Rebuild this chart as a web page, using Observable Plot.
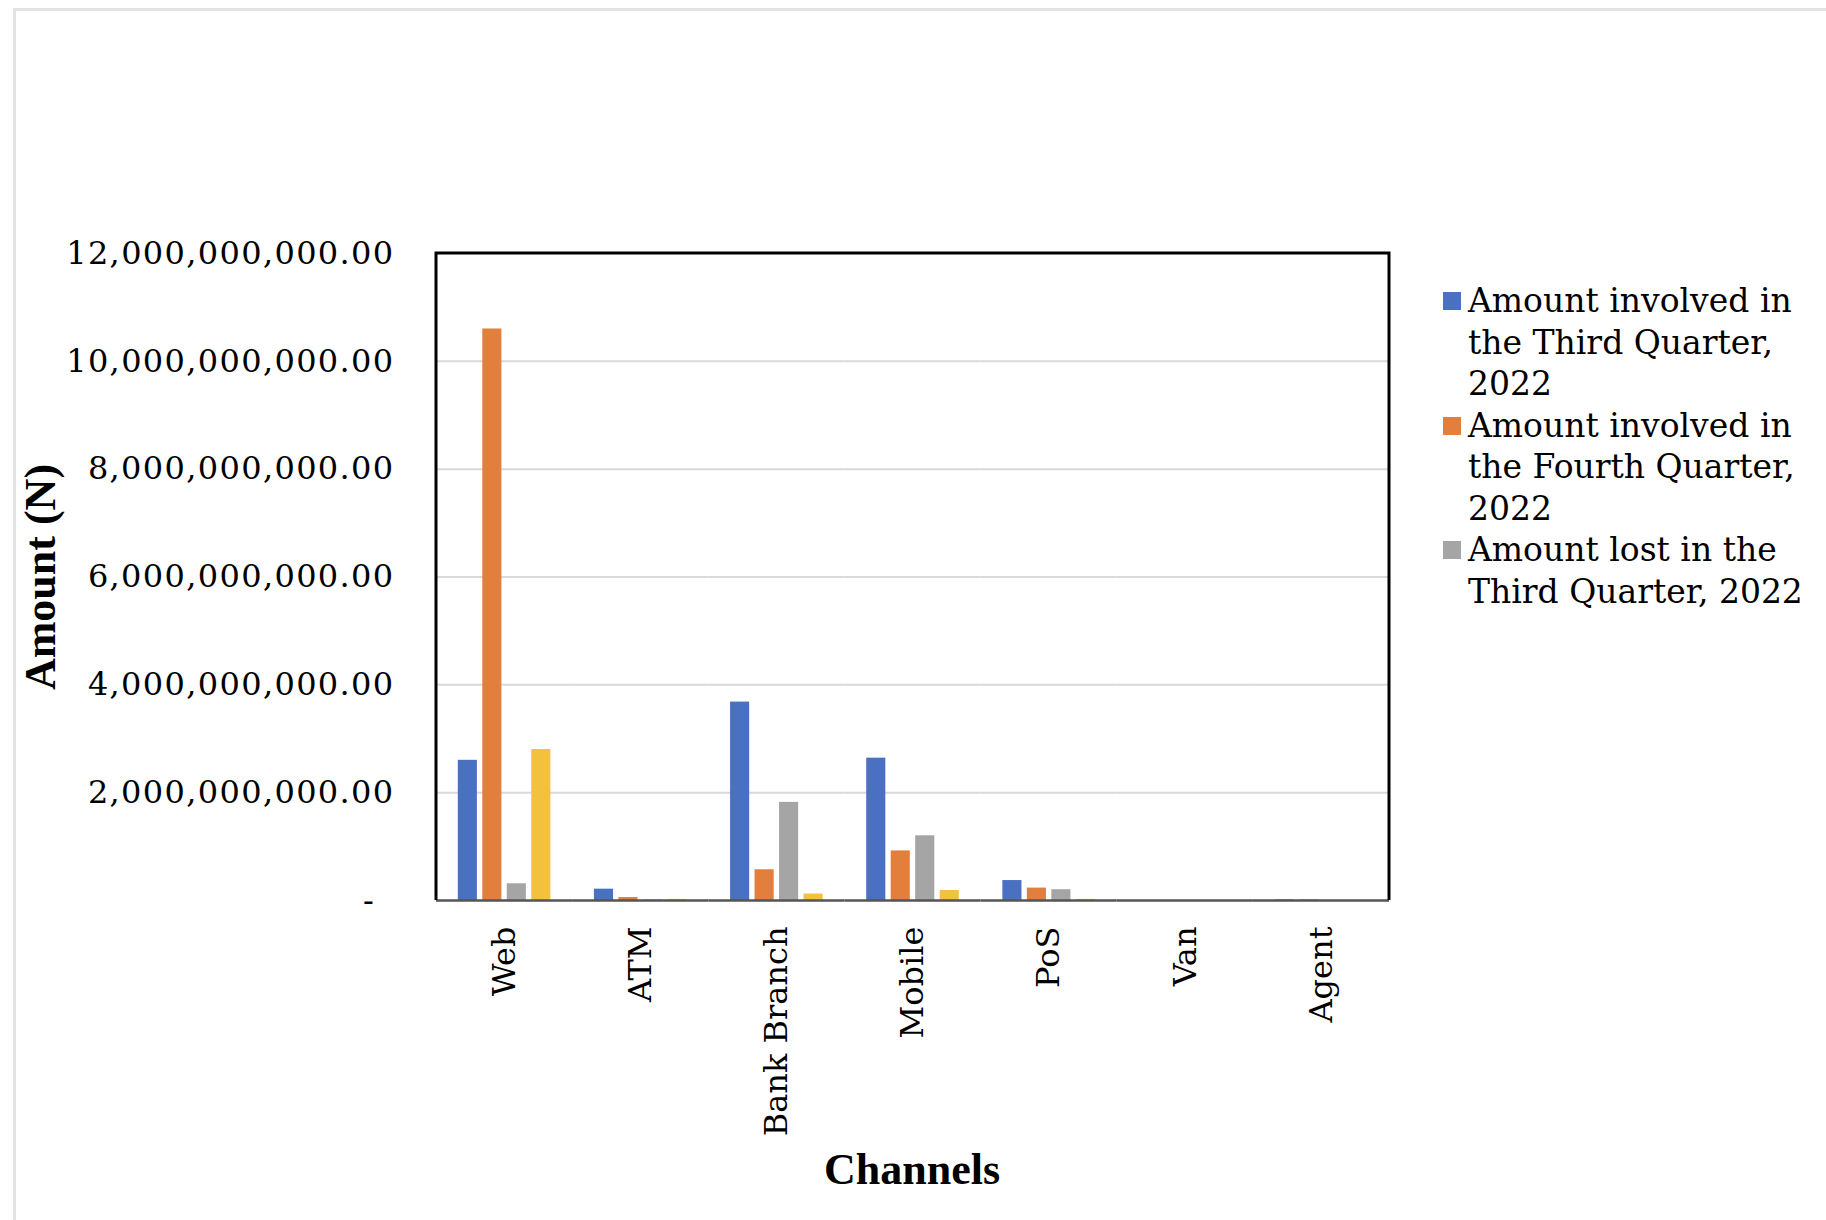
<!DOCTYPE html>
<html>
<head>
<meta charset="utf-8">
<script src="https://cdn.jsdelivr.net/npm/d3@7"></script>
<script src="https://cdn.jsdelivr.net/npm/@observablehq/plot@0.6"></script>
<style>
  html, body { margin: 0; padding: 0; background: #fff; }
  #page { position: relative; width: 1826px; height: 1220px; overflow: hidden; background: #fff; }
  #border { position: absolute; left: 13px; top: 8px; right: -20px; bottom: -20px;
            border-left: 3px solid #e3e3e3; border-top: 3px solid #e3e3e3; }
  #chart { position: absolute; left: 0; top: 0; }
  #chart svg [aria-label="y-axis tick label"] text { letter-spacing: 1.35px; }
  .axis-title { position: absolute; font-family: "Liberation Serif", serif; font-weight: bold;
                font-size: 44px; color: #000; white-space: nowrap; line-height: 1; }
  #ytitle { left: 41px; top: 577px; transform: translate(-50%, -50%) rotate(-90deg); }
  #xtitle { left: 912px; top: 1170px; transform: translate(-50%, -50%); }
  #legend { position: absolute; left: 1443px; top: 280px; font-family: "DejaVu Serif", serif;
            font-size: 33px; line-height: 41.5px; color: #000; }
  .entry { position: relative; padding-left: 25px; white-space: nowrap; }
  .swatch { position: absolute; left: 0; top: 12px; width: 18px; height: 18px; }
</style>
</head>
<body>
<div id="page">
  <div id="border"></div>
  <div id="chart"></div>
  <div id="ytitle" class="axis-title">Amount (N)</div>
  <div id="xtitle" class="axis-title">Channels</div>
  <div id="legend"></div>
</div>
<script>
// Fraud amounts by channel (naira)
const channels = ["Web", "ATM", "Bank Branch", "Mobile", "PoS", "Van", "Agent"];
const seriesNames = [
  "Amount involved in the Third Quarter, 2022",
  "Amount involved in the Fourth Quarter, 2022",
  "Amount lost in the Third Quarter, 2022",
  "Amount lost in the Fourth Quarter, 2022"
];
const legendLines = [
  ["Amount involved in", "the Third Quarter,", "2022"],
  ["Amount involved in", "the Fourth Quarter,", "2022"],
  ["Amount lost in the", "Third Quarter, 2022"]
];
const seriesColors = ["#4a70c1", "#e27f3d", "#a5a5a5", "#f4c13f"];

const involvedQ3 = [2.60e9, 0.21e9, 3.68e9, 2.64e9, 0.37e9, 0, 0.01e9];
const involvedQ4 = [10.60e9, 0.055e9, 0.57e9, 0.92e9, 0.23e9, 0, 0.01e9];
const lostQ3     = [0.31e9, 0.01e9, 1.82e9, 1.20e9, 0.20e9, 0, 0];
const lostQ4     = [2.80e9, 0.02e9, 0.12e9, 0.185e9, 0.02e9, 0, 0];

const yTicks = [0, 2e9, 4e9, 6e9, 8e9, 10e9, 12e9];
const gridTicks = [2e9, 4e9, 6e9, 8e9, 10e9];

const columns = [involvedQ3, involvedQ4, lostQ3, lostQ4];
const rows = [];
channels.forEach((channel, i) => {
  seriesNames.forEach((series, j) => {
    rows.push({channel, series, value: columns[j][i]});
  });
});

const fmt = d3.format(",.2f");

const chart = Plot.plot({
  width: 1420,
  height: 1220,
  marginLeft: 436,
  marginRight: 31,
  marginTop: 253,
  marginBottom: 320,
  style: {fontFamily: "DejaVu Serif", fontSize: "32px", color: "#000", background: "transparent"},
  fx: {domain: channels, paddingInner: 0, paddingOuter: 0, round: false},
  x: {domain: seriesNames, paddingInner: 0.22, paddingOuter: 0.89, round: false, axis: null},
  y: {domain: [0, 12e9]},
  color: {domain: seriesNames, range: seriesColors},
  marks: [
    Plot.gridY(gridTicks, {stroke: "#d9d9d9", strokeOpacity: 1, strokeWidth: 2}),
    Plot.barY(rows, {fx: "channel", x: "series", y: "value", fill: "series"}),
    Plot.ruleY([0], {stroke: "#555", strokeWidth: 2.5}),
    Plot.axisY(yTicks, {
      anchor: "left", tickSize: 0, tickPadding: 42, label: null,
      tickFormat: d => d === 0 ? "-\u00a0\u2009" : fmt(d)
    }),
    Plot.axisFx({anchor: "bottom", tickSize: 0, tickPadding: 26, tickRotate: -90, label: null})
  ]
});

// Black border on the left, top and right of the plotting area
const fxScale = chart.scale("fx");
const yScale = chart.scale("y");
const [x0, x1] = fxScale.range;
const yBottom = yScale.range[0], yTop = yScale.range[1];
d3.select(chart).append("path")
  .attr("d", `M${x0},${yBottom}V${yTop}H${x1}V${yBottom}`)
  .attr("fill", "none")
  .attr("stroke", "#000")
  .attr("stroke-width", 3);

document.getElementById("chart").appendChild(chart);

// Legend entries for the first three series
const legend = d3.select("#legend");
legendLines.forEach((lines, i) => {
  const entry = legend.append("div").attr("class", "entry");
  entry.append("span").attr("class", "swatch").style("background", seriesColors[i]);
  lines.forEach((line, k) => {
    if (k > 0) entry.append("br");
    entry.append("span").text(line);
  });
});
</script>
</body>
</html>
